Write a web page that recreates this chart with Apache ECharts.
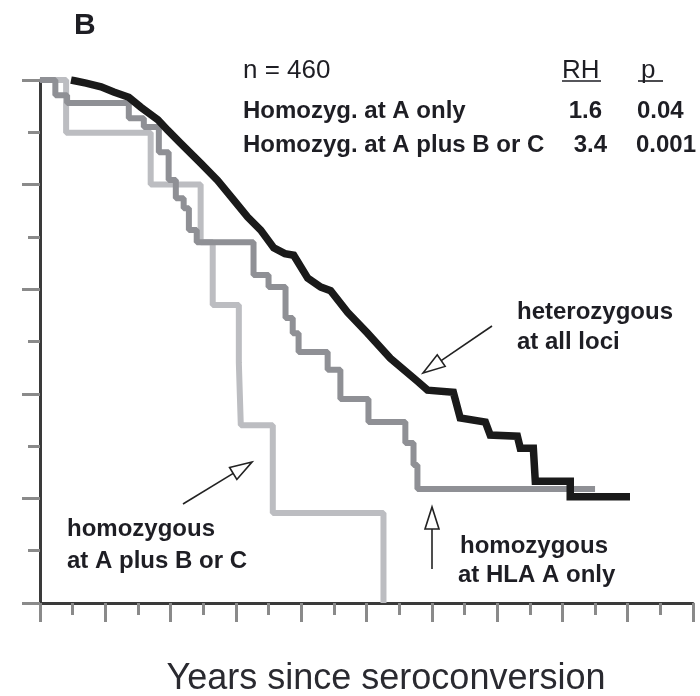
<!DOCTYPE html>
<html>
<head>
<meta charset="utf-8">
<script src="https://cdn.jsdelivr.net/npm/echarts@6/dist/echarts.min.js"></script>
<style>html,body{margin:0;padding:0;background:#fff}#c{width:700px;height:696px}</style>
</head>
<body>
<div id="c"></div>
<script>
// Kaplan-Meier curves: [years since seroconversion, proportion surviving]
const heterozygous = [
  [0.95,1.0],[1.41,0.994],[1.87,0.987],[2.26,0.977],[2.72,0.967],[3.09,0.948],[3.61,0.924],
  [3.91,0.904],[4.31,0.879],[4.92,0.841],[5.44,0.808],[5.93,0.771],[6.36,0.738],[6.76,0.713],
  [7.16,0.679],[7.5,0.668],[7.77,0.665],[8.20,0.621],[8.6,0.604],[8.90,0.597],[9.42,0.556],
  [10.03,0.516],[10.73,0.468],[11.56,0.424],[11.87,0.407],[12.66,0.403],[12.87,0.354],
  [13.64,0.346],[13.79,0.321],[14.62,0.319],[14.71,0.296],[15.11,0.296],[15.17,0.233],
  [16.24,0.233],[16.24,0.203],[18.07,0.203]
];
// step curves: [time of drop, survival after drop]
const homozygA = [
  [0,1.0],[0.47,0.971],[0.83,0.956],[2.72,0.927],[3.18,0.910],[3.64,0.862],[3.94,0.809],
  [4.16,0.774],[4.40,0.755],[4.56,0.713],[4.80,0.690],[6.54,0.627],[7.00,0.604],[7.52,0.545],
  [7.74,0.516],[7.92,0.480],[8.81,0.446],[9.20,0.390],[10.06,0.346],[11.19,0.306],
  [11.44,0.264],[11.56,0.218],[17.0,0.218]
];
const homozygAplusBC = [
  [0,1.0],[0.80,0.899],[3.39,0.800],[4.92,0.690],[5.29,0.570],[6.09,0.459],[6.15,0.340],
  [7.13,0.172],[10.52,0.0]
];
const headerLabels = ['n = 460', 'RH', 'p'];
const rowLabels = ['Homozyg. at A only', 'Homozyg. at A plus B or C'];
const rhValues = ['1.6', '3.4'];
const pValues = ['0.04', '0.001'];
const xAxisTitle = 'Years since seroconversion';

const FONT = '"Liberation Sans", Arial, sans-serif';
const TXT = '#1e1e24';

function arrow(tail, tip, L, w) {
  const dx = tail[0] - tip[0], dy = tail[1] - tip[1];
  const len = Math.hypot(dx, dy);
  const ux = dx / len, uy = dy / len;
  const bx = tip[0] + L * ux, by = tip[1] + L * uy;
  const nx = -uy, ny = ux;
  return [
    {type: 'polyline', shape: {points: [tail, [bx, by]]}, style: {stroke: '#222', lineWidth: 1.6}, z: 100},
    {type: 'polygon', shape: {points: [tip, [bx + w * nx, by + w * ny], [bx - w * nx, by - w * ny]]},
      style: {fill: '#fff', stroke: '#222', lineWidth: 1.6}, z: 100}
  ];
}
function txt(text, x, y, size, bold, align) {
  return {type: 'text', x: x, y: y, z: 100,
    style: {text: text, fill: TXT, font: (bold ? 'bold ' : '') + size + 'px ' + FONT,
      textAlign: align || 'left', textVerticalAlign: 'middle', align: align || 'left', verticalAlign: 'middle'}};
}

const graphics = [
  txt('B', 74, 26, 30, true),
  txt(headerLabels[0], 243, 71, 26, false),
  txt(headerLabels[1], 562, 71, 26, false),
  txt(headerLabels[2], 641, 71, 26, false),
  {type: 'line', shape: {x1: 562, y1: 81, x2: 601, y2: 81}, style: {stroke: TXT, lineWidth: 1.6}, z: 100},
  {type: 'line', shape: {x1: 638, y1: 81, x2: 663, y2: 81}, style: {stroke: TXT, lineWidth: 1.6}, z: 100},
  txt(rowLabels[0], 243, 111, 24, true),
  txt(rowLabels[1], 243, 145, 24, true),
  txt(rhValues[0], 602, 111, 24, true, 'right'),
  txt(rhValues[1], 607, 145, 24, true, 'right'),
  txt(pValues[0], 637, 111, 24, true),
  txt(pValues[1], 636, 145, 24, true),
  txt('heterozygous', 517, 312, 24, true),
  txt('at all loci', 517, 342, 24, true),
  txt('homozygous', 67, 529, 24, true),
  txt('at A plus B or C', 67, 561, 24, true),
  txt('homozygous', 460, 546, 24, true),
  txt('at HLA A only', 458, 575, 24, true),
  {type: 'text', x: 386, y: 679, z: 100,
    style: {text: xAxisTitle, fill: '#2a2a30', font: '36px ' + FONT,
      textAlign: 'center', textVerticalAlign: 'middle', align: 'center', verticalAlign: 'middle'}}
].concat(arrow([492, 326], [423, 373], 22, 7))
 .concat(arrow([183, 504], [252, 462], 22, 7))
 .concat(arrow([432, 569], [432, 507], 22, 7));

const chart = echarts.init(document.getElementById('c'), null, {renderer: 'canvas'});
chart.setOption({
  animation: false,
  backgroundColor: '#fff',
  grid: {left: 40, top: 80, right: 7, bottom: 93, containLabel: false},
  xAxis: {
    type: 'value', min: 0, max: 20, interval: 2,
    axisLine: {show: true, onZero: false, lineStyle: {color: '#3a3a3a', width: 3}},
    axisTick: {show: true, length: 19, lineStyle: {color: '#8a8a8a', width: 3}},
    minorTick: {show: true, splitNumber: 2, length: 12, lineStyle: {color: '#8a8a8a', width: 3}},
    axisLabel: {show: false}, splitLine: {show: false}
  },
  yAxis: {
    type: 'value', min: 0, max: 1, interval: 0.2,
    axisLine: {show: true, onZero: false, lineStyle: {color: '#3a3a3a', width: 3}},
    axisTick: {show: true, length: 18, lineStyle: {color: '#8a8a8a', width: 3}},
    minorTick: {show: true, splitNumber: 2, length: 12, lineStyle: {color: '#8a8a8a', width: 3}},
    axisLabel: {show: false}, splitLine: {show: false}
  },
  series: [
    {type: 'line', name: 'homozygous at A plus B or C', data: homozygAplusBC, step: 'end',
      showSymbol: false, lineStyle: {color: '#bcbdc1', width: 6}, z: 2},
    {type: 'line', name: 'homozygous at HLA A only', data: homozygA, step: 'end',
      showSymbol: false, lineStyle: {color: '#8f9095', width: 6}, z: 3},
    {type: 'line', name: 'heterozygous at all loci', data: heterozygous,
      showSymbol: false, lineStyle: {color: '#1a1a1a', width: 7.5, join: 'miter'}, z: 4}
  ],
  graphic: graphics
});
</script>
</body>
</html>
